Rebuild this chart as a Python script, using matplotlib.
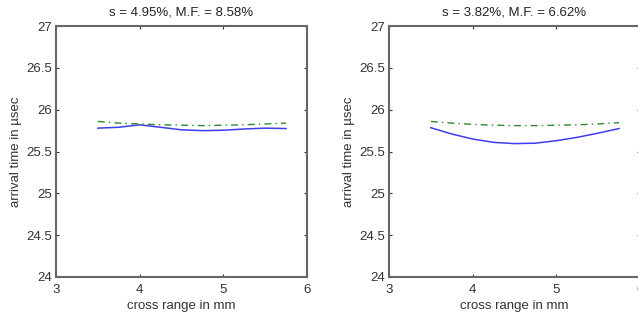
import numpy as np
import matplotlib.pyplot as plt

plt.rcParams['font.family'] = ['Liberation Sans', 'DejaVu Sans']

# cross range positions (mm)
x_pos = [3.5, 3.75, 4.0, 4.25, 4.5, 4.75, 5.0, 5.25, 5.5, 5.75]

# left panel
left_meas = [25.78, 25.79, 25.82, 25.79, 25.76, 25.75, 25.755, 25.77, 25.78, 25.775]
left_ref = [25.86, 25.84, 25.83, 25.82, 25.815, 25.81, 25.815, 25.82, 25.83, 25.84]
left_title = 's = 4.95%, M.F. = 8.58%'

# right panel
right_meas = [25.785, 25.71, 25.65, 25.61, 25.595, 25.60, 25.63, 25.67, 25.72, 25.775]
right_ref = [25.86, 25.84, 25.825, 25.815, 25.81, 25.81, 25.815, 25.82, 25.83, 25.845]
right_title = 's = 3.82%, M.F. = 6.62%'

xticks = [3, 4, 5, 6]
yticks = [24, 24.5, 25, 25.5, 26, 26.5, 27]
ytick_labels = ['24', '24.5', '25', '25.5', '26', '26.5', '27']

fig = plt.figure(figsize=(6.38, 3.2), dpi=100)
ax1 = fig.add_axes([0.0878, 0.1344, 0.3934, 0.784])
ax2 = fig.add_axes([0.6097, 0.1344, 0.3934, 0.784])

for ax, meas, ref, title in [(ax1, left_meas, left_ref, left_title),
                             (ax2, right_meas, right_ref, right_title)]:
    ax.plot(x_pos, meas, color='#3d3df2', lw=1.1)
    ax.plot(x_pos, ref, color='#2f8a2f', lw=1.0, linestyle=(0, (5, 3, 1, 3)))
    ax.set_xlim(3, 6)
    ax.set_ylim(24, 27)
    ax.set_xticks(xticks)
    ax.set_yticks(yticks)
    ax.set_yticklabels(ytick_labels)
    ax.tick_params(direction='in', length=2.5, width=0.8, top=True, right=True,
                   labelsize=9.5, colors='#333333')
    ax.tick_params(axis='x', pad=5)
    ax.tick_params(axis='y', pad=3)
    for s in ax.spines.values():
        s.set_color('#666666')
        s.set_linewidth(1.5)
    ax.set_title(title, fontsize=9.5, color='#222222', pad=8)
    ax.set_xlabel('cross range in mm', fontsize=9.5, color='#333333', labelpad=3)
    ax.set_ylabel('arrival time in µsec', fontsize=9.5, color='#333333', labelpad=3)

fig.savefig('out.png', dpi=100)
